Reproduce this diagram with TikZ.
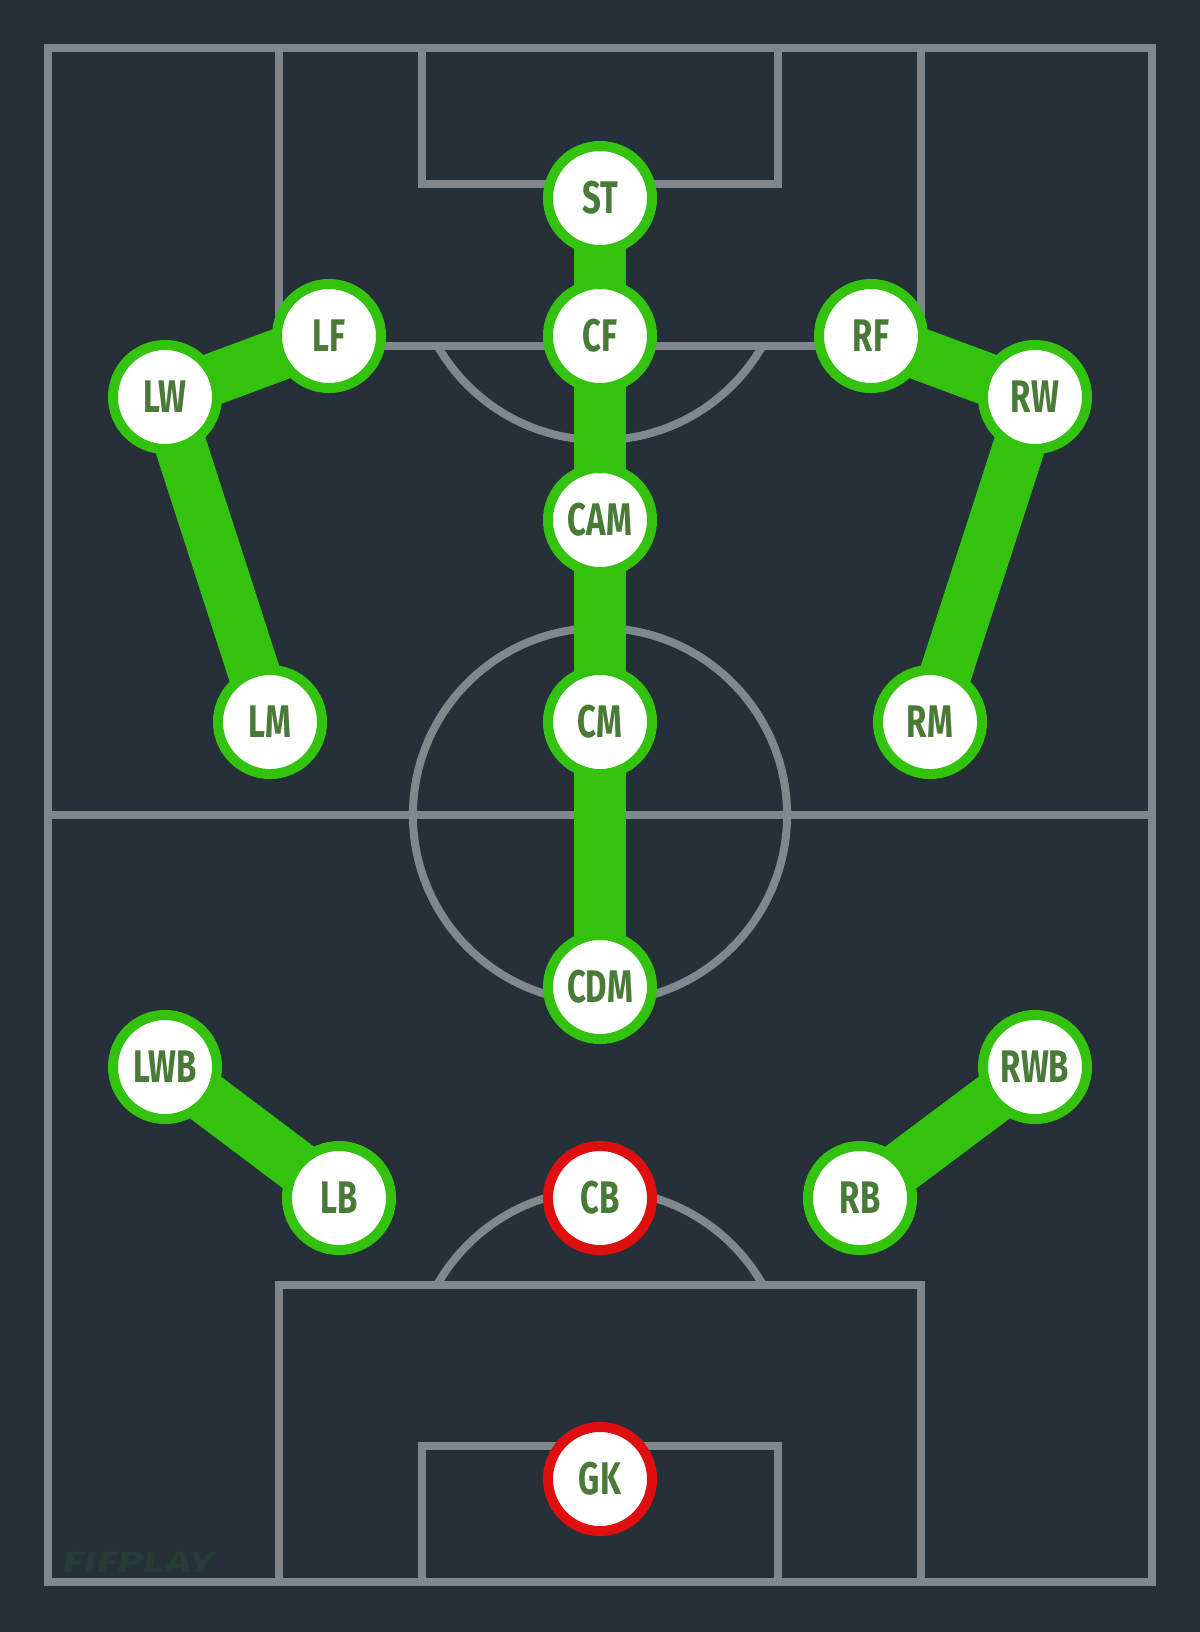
\documentclass[tikz,border=0pt]{standalone}
\usepackage{fontspec}
\setmainfont{Fira Sans}
\usetikzlibrary{backgrounds}
\definecolor{pitch}{HTML}{263039}
\definecolor{chalk}{HTML}{80878D}
\definecolor{playgreen}{HTML}{33C20D}
\definecolor{redring}{HTML}{E00F0F}
\definecolor{labelgreen}{HTML}{497A37}
\definecolor{watermark}{HTML}{283C37}

\newcommand{\posn}[1]{\scalebox{0.72}[1]{#1}}

\tikzset{
    player/.style={circle, fill=white, draw=playgreen, line width=0.1cm,
        minimum size=1.04cm, inner sep=0pt, text=labelgreen,
        font=\fontsize{13}{13}\selectfont\bfseries},
    keyplayer/.style={player, draw=redring},
    link/.style={draw=playgreen, line width=0.52cm},
    pitchline/.style={draw=chalk, line width=0.08cm}
}

\begin{document}
\begin{tikzpicture}[x=0.01cm, y=-0.01cm]
% players
\node[player] (st) at (600,198) {\posn{ST}};
\node[player] (cf) at (600,336) {\posn{CF}};
\node[player] (lf) at (329,336) {\posn{LF}};
\node[player] (rf) at (871,336) {\posn{RF}};
\node[player] (lw) at (165,397) {\posn{LW}};
\node[player] (rw) at (1035,397) {\posn{RW}};
\node[player] (cam) at (600,520) {\posn{CAM}};
\node[player] (lm) at (270,722) {\posn{LM}};
\node[player] (cm) at (600,722) {\posn{CM}};
\node[player] (rm) at (930,722) {\posn{RM}};
\node[player] (cdm) at (600,987) {\posn{CDM}};
\node[player] (lwb) at (165,1067) {\posn{LWB}};
\node[player] (rwb) at (1035,1067) {\posn{RWB}};
\node[player] (lb) at (339,1198) {\posn{LB}};
\node[keyplayer] (cb) at (600,1198) {\posn{CB}};
\node[player] (rb) at (860,1198) {\posn{RB}};
\node[keyplayer] (gk) at (600,1479) {\posn{GK}};

% watermark
\node[anchor=west, inner sep=0pt, text=watermark, font=\fontsize{8.3}{8.3}\selectfont\bfseries\itshape] (logo) at (62,1562) {\scalebox{1.5}[1]{FIFPLAY}};

\begin{scope}[on background layer]
% pitch
\fill[pitch] (0,0) rectangle (1200,1632);
\draw[pitchline] (48,48) rectangle (1152,1582);
\draw[pitchline] (48,815) -- (1152,815);
\draw[pitchline] (600,815) circle[radius=1.87cm];
\draw[pitchline] (279,48) rectangle (921,346);
\draw[pitchline] (422,48) rectangle (778,184);
\draw[pitchline] (279,1285) rectangle (921,1582);
\draw[pitchline] (422,1446) rectangle (778,1582);
\begin{scope}
    \clip (0,346) rectangle (1200,700);
    \draw[pitchline] (600,253) circle[radius=1.87cm];
\end{scope}
\begin{scope}
    \clip (0,1000) rectangle (1200,1285);
    \draw[pitchline] (600,1377) circle[radius=1.87cm];
\end{scope}

% links
\draw[link] (st.center) -- (cf.center) -- (cam.center) -- (cm.center) -- (cdm.center);
\draw[link] (lf.center) -- (lw.center) -- (lm.center);
\draw[link] (rf.center) -- (rw.center) -- (rm.center);
\draw[link] (lwb.center) -- (lb.center);
\draw[link] (rwb.center) -- (rb.center);
\end{scope}
\end{tikzpicture}
\end{document}
